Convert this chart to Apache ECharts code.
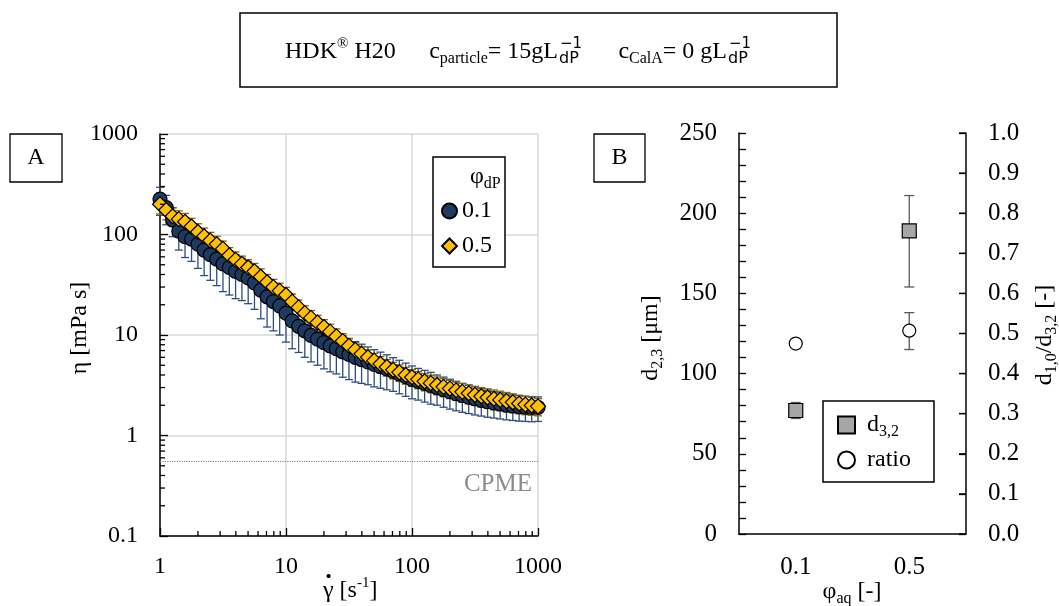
<!DOCTYPE html>
<html>
<head>
<meta charset="utf-8">
<script src="https://cdn.jsdelivr.net/npm/echarts@6/dist/echarts.min.js"></script>
<style>
  html, body { margin: 0; padding: 0; background: #fff; }
  #chart { width: 1059px; height: 606px; }
</style>
</head>
<body>
<div id="chart"></div>
<script>
// panel A: viscosity vs shear rate
const shearRate = [1, 1.12, 1.26, 1.41, 1.58, 1.78, 2, 2.24, 2.51, 2.82, 3.16, 3.55, 3.98, 4.47, 5.01, 5.62, 6.31, 7.08, 7.94, 8.91,
  10, 11.2, 12.6, 14.1, 15.8, 17.8, 20, 22.4, 25.1, 28.2, 31.6, 35.5, 39.8, 44.7, 50.1, 56.2, 63.1, 70.8, 79.4, 89.1,
  100, 112, 126, 141, 158, 178, 200, 224, 251, 282, 316, 355, 398, 447, 501, 562, 631, 708, 794, 891, 1000];
const etaPhi01 = [225, 185, 140, 108, 95, 90, 80, 70, 63, 57, 51, 47, 43, 40, 37, 33, 28, 24, 21.5, 19.5,
  16.5, 13.8, 12.2, 11, 9.9, 9.1, 8.4, 7.8, 7.3, 6.8, 6.4, 6.0, 5.7, 5.4, 5.1, 4.85, 4.6, 4.35, 4.1, 3.85,
  3.62, 3.45, 3.3, 3.15, 3.0, 2.86, 2.73, 2.61, 2.5, 2.41, 2.32, 2.24, 2.17, 2.11, 2.06, 2.01, 1.97, 1.94, 1.92, 1.9, 1.9];
const errPhi01 = [70, 60, 45, 38, 36, 36, 34, 31, 28, 26, 24, 22, 20, 18, 16.5, 15, 13.5, 12, 10.5, 9.5,
  8, 6.5, 5.5, 5, 4.5, 4.1, 3.8, 3.5, 3.2, 3.0, 2.8, 2.6, 2.4, 2.2, 2.05, 1.9, 1.75, 1.6, 1.5, 1.4,
  1.3, 1.2, 1.15, 1.1, 1.0, 0.95, 0.9, 0.85, 0.8, 0.76, 0.72, 0.68, 0.65, 0.62, 0.6, 0.58, 0.56, 0.55, 0.54, 0.53, 0.52];
const etaPhi05 = [200, 175, 152, 142, 134, 120, 106, 96, 87, 80, 72, 62, 56, 51, 47, 43, 38, 33.5, 30, 27.5,
  25, 21.5, 18.8, 16.5, 14.8, 13.3, 12, 10.8, 9.7, 8.7, 7.8, 7.1, 6.5, 6.0, 5.55, 5.15, 4.8, 4.5, 4.25, 4.0,
  3.8, 3.62, 3.46, 3.32, 3.18, 3.05, 2.93, 2.82, 2.72, 2.63, 2.54, 2.46, 2.39, 2.32, 2.26, 2.2, 2.14, 2.08, 2.03, 1.99, 1.95];
const errPhi05 = [40, 35, 32, 30, 28, 25, 22, 20, 18, 16, 14, 12, 11, 10, 9, 8.5, 7.5, 6.5, 5.8, 5.2,
  4.8, 4.0, 3.5, 3.0, 2.7, 2.4, 2.2, 2.0, 1.8, 1.6, 1.45, 1.3, 1.2, 1.1, 1.0, 0.95, 0.9, 0.85, 0.8, 0.76,
  0.72, 0.7, 0.68, 0.66, 0.64, 0.62, 0.6, 0.58, 0.57, 0.56, 0.55, 0.54, 0.53, 0.52, 0.5, 0.48, 0.46, 0.44, 0.42, 0.4, 0.38];
const cpmeViscosity = 0.55;
const minorTicksX = [2, 3, 4, 5, 6, 7, 8, 9, 20, 30, 40, 50, 60, 70, 80, 90, 200, 300, 400, 500, 600, 700, 800, 900];
const minorTicksY = [0.2, 0.3, 0.4, 0.5, 0.6, 0.7, 0.8, 0.9, 2, 3, 4, 5, 6, 7, 8, 9, 20, 30, 40, 50, 60, 70, 80, 90,
  200, 300, 400, 500, 600, 700, 800, 900];

// panel B: droplet size and ratio
const phiAq = ['0.1', '0.5'];
const d32 = [77, 189];
const d32Low = [72, 154];
const d32High = [82, 211];
const ratio = [0.475, 0.507];
const ratioLow = [0.465, 0.46];
const ratioHigh = [0.485, 0.552];
const ratioTicks = [0, 0.1, 0.2, 0.3, 0.4, 0.5, 0.6, 0.7, 0.8, 0.9, 1.0];

const FONT = 'Liberation Serif';
const chart = echarts.init(document.getElementById('chart'), null, { renderer: 'canvas' });

function errorBars(color, capHalf) {
  return function (params, api) {
    const x = api.value(0);
    const lo = api.coord([x, api.value(1)]);
    const hi = api.coord([x, api.value(2)]);
    const st = { stroke: color, lineWidth: 1.3 };
    return {
      type: 'group',
      children: [
        { type: 'line', shape: { x1: lo[0], y1: lo[1], x2: hi[0], y2: hi[1] }, style: st },
        { type: 'line', shape: { x1: lo[0] - capHalf, y1: lo[1], x2: lo[0] + capHalf, y2: lo[1] }, style: st },
        { type: 'line', shape: { x1: hi[0] - capHalf, y1: hi[1], x2: hi[0] + capHalf, y2: hi[1] }, style: st }
      ]
    };
  };
}

const errData01 = shearRate.map((x, i) => [x, Math.max(etaPhi01[i] - errPhi01[i], 0.11), etaPhi01[i] + errPhi01[i]]);
const errData05 = shearRate.map((x, i) => [x, Math.max(etaPhi05[i] - errPhi05[i], 0.11), etaPhi05[i] + errPhi05[i]]);

const subRich = {
  m: { fontFamily: FONT, fontSize: 24, lineHeight: 30, color: '#000' },
  b: { fontFamily: FONT, fontSize: 16, lineHeight: 14, verticalAlign: 'bottom', color: '#000' },
  s: { fontFamily: FONT, fontSize: 15, lineHeight: 14, verticalAlign: 'top', color: '#000' }
};

function label(text, x, y, rotated) {
  return {
    type: 'text', x: x, y: y, rotation: rotated ? Math.PI / 2 : 0, z: 10,
    style: { text: text, align: 'center', verticalAlign: 'middle', rich: subRich }
  };
}

const option = {
  backgroundColor: '#fff',
  animation: false,
  grid: [
    { left: 160, top: 134, width: 378, height: 402, outerBoundsMode: 'none', containLabel: false },
    { left: 739, top: 133, width: 227, height: 401, outerBoundsMode: 'none', containLabel: false }
  ],
  xAxis: [
    {
      type: 'log', gridIndex: 0, min: 1, max: 1000, logBase: 10,
      axisLine: { lineStyle: { color: '#000', width: 1.5 } },
      axisTick: { inside: true, length: 8, lineStyle: { color: '#000', width: 1.3 } },
      axisLabel: { fontFamily: FONT, fontSize: 24, color: '#000', margin: 19, formatter: v => String(+v.toPrecision(3)) },
      splitLine: { show: true, lineStyle: { color: '#d9d9d9', width: 1.5 } }
    },
    {
      type: 'category', gridIndex: 1, data: phiAq,
      axisLine: { lineStyle: { color: '#000', width: 1.5 } },
      axisTick: { show: false },
      axisLabel: { fontFamily: FONT, fontSize: 25, color: '#000', margin: 21 }
    }
  ],
  yAxis: [
    {
      type: 'log', gridIndex: 0, min: 0.1, max: 1000, logBase: 10,
      axisLine: { show: true, lineStyle: { color: '#000', width: 1.5 } },
      axisTick: { inside: true, length: 8, lineStyle: { color: '#000', width: 1.3 } },
      axisLabel: { fontFamily: FONT, fontSize: 24, color: '#000', margin: 22, formatter: v => String(+v.toPrecision(3)) },
      splitLine: { show: true, lineStyle: { color: '#d9d9d9', width: 1.5 } }
    },
    {
      type: 'value', gridIndex: 1, min: 0, max: 250, interval: 50, position: 'left',
      axisLine: { show: true, lineStyle: { color: '#000', width: 1.5 } },
      axisTick: { show: true, inside: true, length: 7, lineStyle: { color: '#000', width: 1.3 } },
      minorTick: { show: true, splitNumber: 5, length: 7, lineStyle: { color: '#000', width: 1.3 } },
      axisLabel: { fontFamily: FONT, fontSize: 25, color: '#000', margin: 22 },
      splitLine: { show: false }
    },
    {
      type: 'value', gridIndex: 1, min: 0, max: 1, interval: 0.1, position: 'right',
      axisLine: { show: true, lineStyle: { color: '#000', width: 1.5 } },
      axisTick: { show: true, inside: true, length: 7, lineStyle: { color: '#000', width: 1.3 } },
      axisLabel: { fontFamily: FONT, fontSize: 25, color: '#000', margin: 22, formatter: v => v.toFixed(1) },
      splitLine: { show: false }
    }
  ],
  legend: [
    {
      data: ['0.1', '0.5'], orient: 'vertical', left: 433, top: 157,
      padding: [42, 13, 9, 8], itemGap: 11, itemWidth: 15, itemHeight: 15,
      backgroundColor: '#fff', borderColor: '#000', borderWidth: 1.5, selectedMode: false,
      textStyle: { fontFamily: FONT, fontSize: 24, color: '#000' }
    },
    {
      data: ['d32', 'ratio'], orient: 'vertical', left: 823, top: 401,
      padding: [12, 23, 10, 14], itemGap: 8, itemWidth: 17, itemHeight: 17,
      backgroundColor: '#fff', borderColor: '#000', borderWidth: 1.5, selectedMode: false,
      formatter: n => n === 'd32' ? '{m|d}{b|3,2}' : '{m|ratio}',
      textStyle: { fontFamily: FONT, fontSize: 24, color: '#000', padding: [0, 0, 0, 7], rich: subRich }
    }
  ],
  series: [
    {
      type: 'custom', name: 'err01', xAxisIndex: 0, yAxisIndex: 0, z: 2,
      renderItem: errorBars('#2f4d7e', 4), data: errData01, silent: true
    },
    {
      type: 'custom', name: 'err05', xAxisIndex: 0, yAxisIndex: 0, z: 2,
      renderItem: errorBars('#86690f', 4), data: errData05, silent: true
    },
    {
      type: 'scatter', name: '0.1', xAxisIndex: 0, yAxisIndex: 0, z: 3,
      symbol: 'circle', symbolSize: 14,
      itemStyle: { color: '#1f3a60', borderColor: '#000', borderWidth: 1.2, opacity: 1 },
      data: shearRate.map((x, i) => [x, etaPhi01[i]]),
      markLine: {
        silent: true, symbol: 'none',
        lineStyle: { type: 'dotted', color: '#7f7f7f', width: 1.2 },
        label: { position: 'insideEndBottom', formatter: 'CPME', fontFamily: FONT, fontSize: 25, color: '#8c8c8c', distance: [6, 10] },
        data: [{ yAxis: cpmeViscosity }]
      }
    },
    {
      type: 'scatter', name: '0.5', xAxisIndex: 0, yAxisIndex: 0, z: 4,
      symbol: 'diamond', symbolSize: 15,
      itemStyle: { color: '#ffc000', borderColor: '#000', borderWidth: 1.2, opacity: 1 },
      data: shearRate.map((x, i) => [x, etaPhi05[i]])
    },
    {
      type: 'custom', name: 'minorX', xAxisIndex: 0, yAxisIndex: 0, z: 5, silent: true,
      data: minorTicksX.map(v => [v, 0.1]),
      renderItem: (params, api) => {
        const p = api.coord([api.value(0), api.value(1)]);
        return { type: 'line', shape: { x1: p[0], y1: p[1], x2: p[0], y2: p[1] - 5 }, style: { stroke: '#000', lineWidth: 1.3 } };
      }
    },
    {
      type: 'custom', name: 'minorY', xAxisIndex: 0, yAxisIndex: 0, z: 5, silent: true,
      data: minorTicksY.map(v => [1, v]),
      renderItem: (params, api) => {
        const p = api.coord([api.value(0), api.value(1)]);
        return { type: 'line', shape: { x1: p[0], y1: p[1], x2: p[0] + 5, y2: p[1] }, style: { stroke: '#000', lineWidth: 1.3 } };
      }
    },
    {
      // ticks of the right-hand ratio axis, at the right edge of the last category band
      type: 'custom', name: 'ratioTicks', xAxisIndex: 1, yAxisIndex: 2, z: 6, silent: true, clip: false,
      data: ratioTicks.map(v => [1, v]),
      renderItem: (params, api) => {
        const p = api.coord([api.value(0), api.value(1)]);
        const xr = p[0] + api.size([1, 0])[0] / 2;
        return { type: 'line', shape: { x1: xr, y1: p[1], x2: xr - 7, y2: p[1] }, style: { stroke: '#000', lineWidth: 1.3 } };
      }
    },
    {
      type: 'custom', name: 'errD32', xAxisIndex: 1, yAxisIndex: 1, z: 2, silent: true,
      renderItem: errorBars('#595959', 5), data: phiAq.map((c, i) => [i, d32Low[i], d32High[i]])
    },
    {
      type: 'custom', name: 'errRatio', xAxisIndex: 1, yAxisIndex: 2, z: 2, silent: true,
      renderItem: errorBars('#595959', 5), data: phiAq.map((c, i) => [i, ratioLow[i], ratioHigh[i]])
    },
    {
      type: 'scatter', name: 'd32', xAxisIndex: 1, yAxisIndex: 1, z: 3,
      symbol: 'rect', symbolSize: 14,
      itemStyle: { color: '#a6a6a6', borderColor: '#000', borderWidth: 1.2, opacity: 1 },
      data: phiAq.map((c, i) => [i, d32[i]])
    },
    {
      type: 'scatter', name: 'ratio', xAxisIndex: 1, yAxisIndex: 2, z: 3,
      symbol: 'circle', symbolSize: 13,
      itemStyle: { color: '#fff', borderColor: '#000', borderWidth: 1.2, opacity: 1 },
      data: phiAq.map((c, i) => [i, ratio[i]])
    }
  ],
  graphic: [
    // header box
    { type: 'rect', shape: { x: 240, y: 13, width: 597, height: 74 }, style: { fill: '#fff', stroke: '#000', lineWidth: 1.5 } },
    {
      type: 'text', x: 285, y: 52,
      style: { text: '{m|HDK}{s|®}{m| H20}', verticalAlign: 'middle', rich: subRich }
    },
    {
      type: 'text', x: 558, y: 52,
      style: { text: '{m|c}{b|particle}{m|= 15gL}', align: 'right', verticalAlign: 'middle', rich: subRich }
    },
    { type: 'text', x: 560, y: 44, style: { text: '−1', font: '15px "DejaVu Sans"', fill: '#000', verticalAlign: 'middle' } },
    { type: 'text', x: 559, y: 59, style: { text: 'dP', font: '16px "DejaVu Sans"', fill: '#000', verticalAlign: 'middle' } },
    {
      type: 'text', x: 727, y: 52,
      style: { text: '{m|c}{b|CalA}{m|= 0 gL}', align: 'right', verticalAlign: 'middle', rich: subRich }
    },
    { type: 'text', x: 729, y: 44, style: { text: '−1', font: '15px "DejaVu Sans"', fill: '#000', verticalAlign: 'middle' } },
    { type: 'text', x: 728, y: 59, style: { text: 'dP', font: '16px "DejaVu Sans"', fill: '#000', verticalAlign: 'middle' } },
    // axis titles
    { type: 'text', x: 323, y: 591, style: { text: '{m|γ [s}{s|-1}{m|]}', verticalAlign: 'middle', rich: subRich } },
    { type: 'text', x: 328.5, y: 577, style: { text: '·', font: 'bold 26px "Liberation Serif"', fill: '#000', align: 'center', verticalAlign: 'middle' } },
    label('{m|η [mPa s]}', 80, 328, true),
    label('{m|φ}{b|aq}{m| [-]}', 852, 592, false),
    label('{m|d}{b|2,3}{m| [μm]}', 651, 338, true),
    label('{m|d}{b|1,0}{m|/d}{b|3,2}{m| [-]}', 1045, 335, true),
    // panel letters
    { type: 'rect', shape: { x: 10, y: 134, width: 52, height: 48 }, style: { fill: '#fff', stroke: '#000', lineWidth: 1.3 } },
    { type: 'text', x: 36, y: 158, style: { text: 'A', font: '24px "Liberation Serif"', fill: '#000', align: 'center', verticalAlign: 'middle' } },
    { type: 'rect', shape: { x: 594, y: 134, width: 51, height: 48 }, style: { fill: '#fff', stroke: '#000', lineWidth: 1.3 } },
    { type: 'text', x: 619.5, y: 158, style: { text: 'B', font: '24px "Liberation Serif"', fill: '#000', align: 'center', verticalAlign: 'middle' } },
    // legend A title
    { type: 'text', x: 470, y: 177, z: 10, style: { text: '{m|φ}{b|dP}', verticalAlign: 'middle', rich: subRich } }
  ]
};

chart.setOption(option);
</script>
</body>
</html>
